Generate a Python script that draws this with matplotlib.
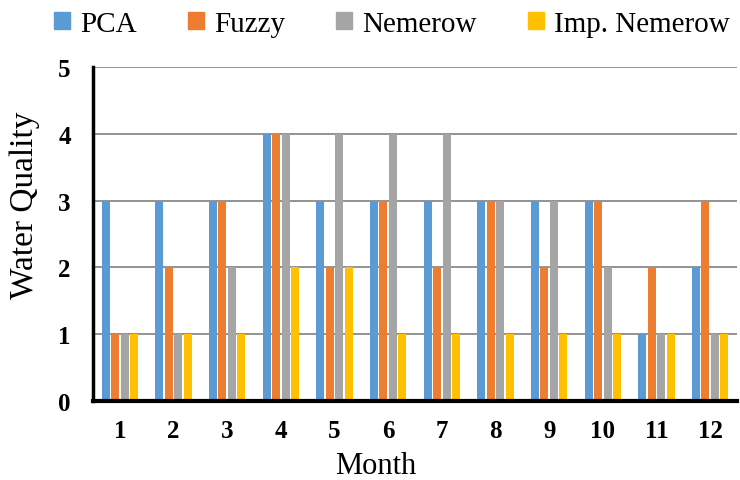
import numpy as np
import matplotlib.pyplot as plt
from matplotlib.patches import Patch

months = ['1', '2', '3', '4', '5', '6', '7', '8', '9', '10', '11', '12']
pca = [3, 3, 3, 4, 3, 3, 3, 3, 3, 3, 1, 2]
fuzzy = [1, 2, 3, 4, 2, 3, 2, 3, 2, 3, 2, 3]
nemerow = [1, 1, 2, 4, 4, 4, 4, 3, 3, 2, 1, 1]
imp_nemerow = [1, 1, 1, 2, 2, 1, 1, 1, 1, 1, 1, 1]

series = [('PCA', pca, '#5B9BD5'),
          ('Fuzzy', fuzzy, '#ED7D31'),
          ('Nemerow', nemerow, '#A5A5A5'),
          ('Imp. Nemerow', imp_nemerow, '#FFC000')]

plt.rcParams['font.family'] = ['Liberation Serif', 'DejaVu Serif']

fig = plt.figure(figsize=(7.4, 4.81), dpi=100)
# axes box: x 93..737 px, y 68..402 px
ax = fig.add_axes([93 / 740, 1 - 402 / 481, 644 / 740, 334 / 481])

x = np.arange(len(months))
w = 0.15
step = 0.177
for i, (name, vals, col) in enumerate(series):
    ax.bar(x + (i - 1.5) * step, vals, w, color=col, label=name, zorder=3)

ax.set_xlim(-0.5, len(months) - 0.5)
ax.set_ylim(0, 5)
ax.set_yticks(range(6))
ax.set_xticks(x)
ax.set_xticklabels(months)
for lab in ax.get_xticklabels() + ax.get_yticklabels():
    lab.set_fontweight('bold')
    lab.set_fontsize(18)
ax.tick_params(axis='both', length=0)
ax.tick_params(axis='x', pad=13)
ax.tick_params(axis='y', pad=16)

for v in range(1, 6):
    ax.axhline(v, color='#808080', lw=1.2, zorder=1)

for s in ['top', 'right']:
    ax.spines[s].set_visible(False)
ax.spines['left'].set_linewidth(2.5)
ax.spines['bottom'].set_linewidth(3)
ax.spines['left'].set_zorder(4)
ax.spines['bottom'].set_zorder(4)

ax.set_xlabel('Month', fontsize=22)
ax.set_ylabel('Water Quality', fontsize=24)
ax.xaxis.set_label_coords((376 - 93) / 644, -(466 - 402) / 334)
ax.yaxis.set_label_coords(-(93 - 25) / 644, (402 - 205) / 334)
ax.xaxis.label.set_va('center')
ax.yaxis.label.set_va('center')

handles = [Patch(color=c) for _, _, c in series]
fig.legend(handles, [s[0] for s in series], loc='center left',
           bbox_to_anchor=(42 / 740, 1 - 25 / 481), ncol=4, frameon=False,
           fontsize=21, handlelength=0.55, handleheight=0.55,
           handletextpad=0.35, columnspacing=1.75, borderaxespad=0)

fig.savefig('out.png', dpi=100)
